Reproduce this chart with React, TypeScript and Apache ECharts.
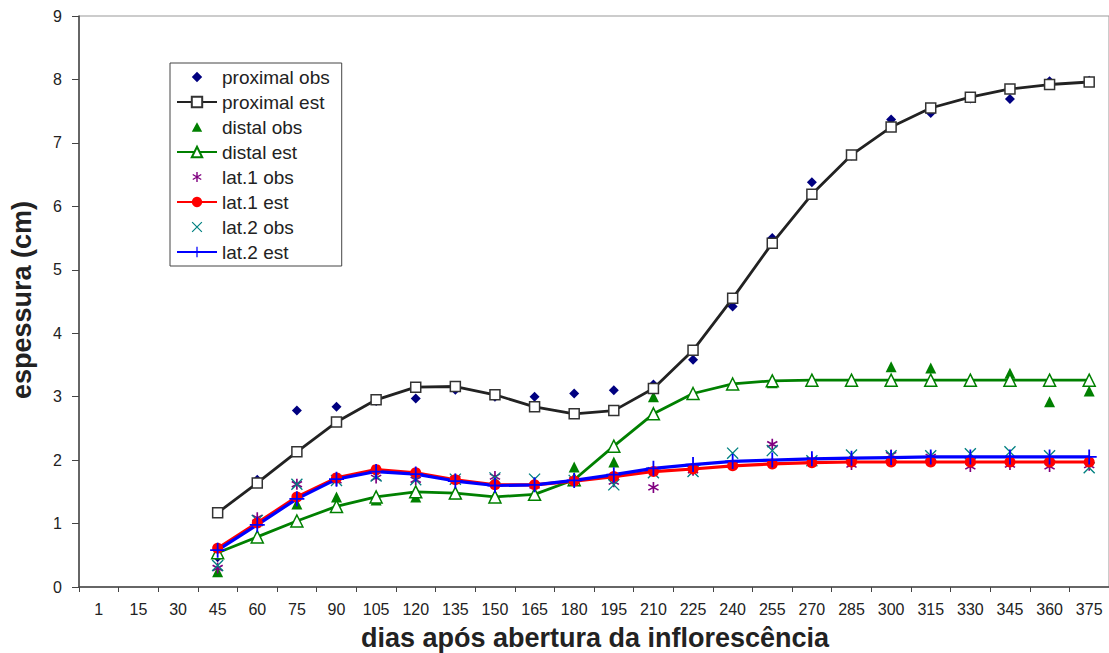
import React, { useEffect, useRef } from "react";
import * as echarts from "echarts";

const categories = ["1","15","30","45","60","75","90","105","120","135","150","165","180","195","210","225","240","255","270","285","300","315","330","345","360","375"];

const proximalObs = [null,null,null,0.47,1.69,2.78,2.84,2.93,2.97,3.11,3.0,3.0,3.05,3.1,3.19,3.58,4.42,5.5,6.38,6.8,7.37,7.47,7.7,7.69,7.97,7.98];
const proximalEst = [null,null,null,1.17,1.64,2.13,2.6,2.95,3.15,3.16,3.03,2.84,2.73,2.78,3.13,3.73,4.55,5.42,6.19,6.81,7.25,7.55,7.72,7.85,7.92,7.96];
const distalObs = [null,null,null,0.24,0.8,1.31,1.42,1.37,1.42,1.47,1.45,1.45,1.89,1.97,3.0,3.05,3.2,3.22,3.27,3.27,3.47,3.45,3.27,3.37,2.92,3.09];
const distalEst = [null,null,null,0.54,0.79,1.04,1.27,1.42,1.5,1.48,1.42,1.46,1.69,2.22,2.73,3.05,3.2,3.25,3.26,3.26,3.26,3.26,3.26,3.26,3.26,3.26];
const lat1Obs = [null,null,null,0.3,1.09,1.62,1.68,1.72,1.69,1.7,1.74,1.6,1.68,1.66,1.57,1.84,1.92,2.25,2.0,1.93,2.08,2.05,1.9,1.93,1.9,1.92];
const lat1Est = [null,null,null,0.61,1.01,1.42,1.72,1.85,1.8,1.69,1.61,1.61,1.67,1.74,1.82,1.86,1.91,1.94,1.96,1.97,1.97,1.97,1.97,1.97,1.97,1.97];
const lat2Obs = [null,null,null,0.34,1.05,1.62,1.68,1.75,1.69,1.7,1.72,1.7,1.68,1.61,1.8,1.82,2.11,2.15,1.99,2.08,2.07,2.07,2.1,2.13,2.07,1.88];
const lat2Est = [null,null,null,0.58,0.98,1.39,1.7,1.82,1.78,1.67,1.6,1.61,1.68,1.77,1.87,1.93,1.98,2.0,2.02,2.03,2.04,2.05,2.05,2.05,2.05,2.05];

const legendNames = ["proximal obs", "proximal est", "distal obs", "distal est", "lat.1 obs", "lat.1 est", "lat.2 obs", "lat.2 est"];

const yTicks = { min: 0, max: 9, interval: 1 };

// build a thick-line polygon path for custom symbols
function bar(x1: number, y1: number, x2: number, y2: number, w: number): string {
  const dx = x2 - x1, dy = y2 - y1;
  const len = Math.sqrt(dx * dx + dy * dy);
  const nx = (-dy / len) * (w / 2), ny = (dx / len) * (w / 2);
  const f = (v: number) => v.toFixed(2);
  return `M${f(x1 + nx)},${f(y1 + ny)} L${f(x2 + nx)},${f(y2 + ny)} L${f(x2 - nx)},${f(y2 - ny)} L${f(x1 - nx)},${f(y1 - ny)} Z`;
}
const xPath = bar(1, 1, 19, 19, 2.2) + " " + bar(19, 1, 1, 19, 2.2);
const plusPath = bar(10, 0, 10, 20, 2.4) + " " + bar(0, 10, 20, 10, 2.4);
const starPath = bar(10, 0, 10, 20, 2.8) + " " + bar(1.5, 5, 18.5, 15, 2.8) + " " + bar(1.5, 15, 18.5, 5, 2.8);
const xSymbol = "path://" + xPath;
const plusSymbol = "path://" + plusPath;
const starSymbol = "path://" + starPath;

// legend icons: symbol drawn inside a larger invisible box so it stays small
function padded(inner: string, innerSize: number, box: number): string {
  const off = (box - innerSize) / 2;
  const shifted = inner.replace(/(-?\d+(?:\.\d+)?),(-?\d+(?:\.\d+)?)/g, (_m, a, b) =>
    `${(parseFloat(a) + off).toFixed(2)},${(parseFloat(b) + off).toFixed(2)}`);
  return `path://M0,0 L0.01,0 L0,0.01 Z M${box},${box} L${box - 0.01},${box} L${box},${box - 0.01} Z ` + shifted;
}
const legendDiamond = padded("M10,0 L20,10 L10,20 L0,10 Z", 20, 25);
const legendTriangle = padded("M10,1 L20,19 L0,19 Z", 20, 25);
const legendStar = padded(starPath, 20, 26);
const legendX = padded(xPath, 20, 24);

const FONT = "'Liberation Sans', Arial, sans-serif";

export default function App() {
  const ref = useRef<HTMLDivElement>(null);
  useEffect(() => {
    if (!ref.current) return;
    const chart = echarts.init(ref.current, undefined, { renderer: "svg" });
    chart.setOption({
      animation: false,
      backgroundColor: "#ffffff",
      textStyle: { fontFamily: FONT },
      grid: {
        left: 79,
        top: 16,
        width: 1031,
        height: 571,
        show: true,
        borderColor: "#999999",
        borderWidth: 1,
        backgroundColor: "transparent",
      },
      legend: {
        orient: "vertical",
        left: 170,
        top: 63,
        padding: [4, 12, 4, 6],
        itemWidth: 40,
        itemHeight: 13,
        itemGap: 5,
        borderColor: "#444444",
        borderWidth: 1,
        backgroundColor: "#ffffff",
        textStyle: { fontSize: 19, color: "#222222", fontFamily: FONT, lineHeight: 20 },
        data: [
          { name: legendNames[0], icon: legendDiamond },
          { name: legendNames[1] },
          { name: legendNames[2], icon: legendTriangle },
          { name: legendNames[3] },
          { name: legendNames[4], icon: legendStar },
          { name: legendNames[5] },
          { name: legendNames[6], icon: legendX },
          { name: legendNames[7] },
        ],
      },
      xAxis: {
        type: "category",
        data: categories,
        boundaryGap: true,
        axisLine: { lineStyle: { color: "#444444", width: 1.5 } },
        axisTick: { show: true, length: 5, lineStyle: { color: "#444444" } },
        axisLabel: { fontSize: 16, color: "#222222", margin: 14, fontFamily: FONT, interval: 0 },
        splitLine: { show: false },
      },
      yAxis: {
        type: "value",
        min: yTicks.min,
        max: yTicks.max,
        interval: yTicks.interval,
        axisLine: { show: true, lineStyle: { color: "#444444", width: 1.5 } },
        axisTick: { show: true, length: 7, lineStyle: { color: "#444444" } },
        axisLabel: { fontSize: 16, color: "#222222", margin: 17, fontFamily: FONT },
        splitLine: { show: false },
      },
      graphic: [
        {
          type: "text",
          x: 595,
          y: 638,
          style: {
            text: "dias após abertura da inflorescência",
            font: `bold 27px ${FONT}`,
            fill: "#222222",
            textAlign: "center",
            textVerticalAlign: "middle",
          },
        },
        {
          type: "text",
          x: 22,
          y: 300,
          rotation: Math.PI / 2,
          style: {
            text: "espessura (cm)",
            font: `bold 27px ${FONT}`,
            fill: "#222222",
            textAlign: "center",
            textVerticalAlign: "middle",
          },
        },
      ],
      series: [
        {
          name: legendNames[0],
          type: "scatter",
          data: proximalObs,
          symbol: "diamond",
          symbolSize: 10,
          itemStyle: { color: "#000080", opacity: 1 },
        },
        {
          name: legendNames[1],
          type: "line",
          data: proximalEst,
          symbol: "rect",
          symbolSize: 10,
          showAllSymbol: true,
          lineStyle: { color: "#222222", width: 2.8 },
          itemStyle: { color: "#ffffff", borderColor: "#333333", borderWidth: 1.5 },
        },
        {
          name: legendNames[2],
          type: "scatter",
          data: distalObs,
          symbol: "triangle",
          symbolSize: 11,
          itemStyle: { color: "#008000", opacity: 1 },
        },
        {
          name: legendNames[3],
          type: "line",
          data: distalEst,
          symbol: "triangle",
          symbolSize: 12,
          showAllSymbol: true,
          lineStyle: { color: "#008000", width: 2.8 },
          itemStyle: { color: "#ffffff", borderColor: "#008000", borderWidth: 1.5 },
        },
        {
          name: legendNames[4],
          type: "scatter",
          data: lat1Obs,
          symbol: starSymbol,
          symbolSize: 11,
          itemStyle: { color: "#800080", opacity: 1 },
        },
        {
          name: legendNames[5],
          type: "line",
          data: lat1Est,
          symbol: "circle",
          symbolSize: 11,
          showAllSymbol: true,
          lineStyle: { color: "#ff0000", width: 3.2 },
          itemStyle: { color: "#ff0000" },
        },
        {
          name: legendNames[6],
          type: "scatter",
          data: lat2Obs,
          symbol: xSymbol,
          symbolSize: 12,
          itemStyle: { color: "#008080", opacity: 1 },
        },
        {
          name: legendNames[7],
          type: "line",
          data: lat2Est,
          symbol: plusSymbol,
          symbolSize: 15,
          showAllSymbol: true,
          lineStyle: { color: "#0000ff", width: 3.2 },
          itemStyle: { color: "#0000ff" },
        },
      ],
    });
    return () => chart.dispose();
  }, []);
  return (
    <div
      ref={ref}
      style={{ position: "fixed", left: 0, top: 0, width: 1109, height: 653, background: "#ffffff" }}
    />
  );
}
